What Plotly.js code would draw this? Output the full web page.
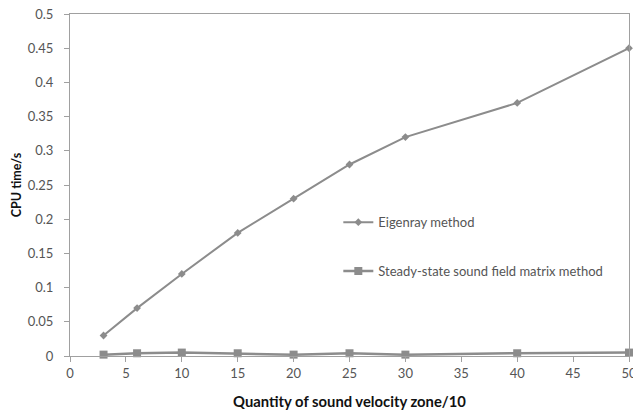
<!DOCTYPE html>
<html><head><meta charset="utf-8">
<script src="https://cdn.plot.ly/plotly-3.0.1.min.js"></script>
<style>body{margin:0;background:#fff}#c{width:633px;height:414px}</style>
</head><body><div id="c"></div>
<script>
const zones = [3, 6, 10, 15, 20, 25, 30, 40, 50];
const eigenray = [0.03, 0.07, 0.12, 0.18, 0.23, 0.28, 0.32, 0.37, 0.45];
const steady = [0.002, 0.004, 0.005, 0.004, 0.002, 0.004, 0.002, 0.004, 0.005];
const xTicks = [0,5,10,15,20,25,30,35,40,45,50];
const yTicks = [0,0.05,0.1,0.15,0.2,0.25,0.3,0.35,0.4,0.45,0.5];
const yTickText = ['0','0.05','0.1','0.15','0.2','0.25','0.3','0.35','0.4','0.45','0.5'];

const traces = [
  {x: zones, y: eigenray, name: 'Eigenray method', mode: 'lines+markers', legendgroup:'a',
   line:{color:'#8c8c8c', width:2}, marker:{symbol:'diamond', size:6, color:'#8c8c8c'}, cliponaxis:false},
  {x: zones, y: steady, name: 'Steady-state sound field matrix method', mode: 'lines+markers', legendgroup:'b',
   line:{color:'#8c8c8c', width:2.5}, marker:{symbol:'square', size:8, color:'#8c8c8c'}, cliponaxis:false}
];
const layout = {
  width:633, height:414,
  margin:{l:70, r:4, t:13.5, b:58.3},
  paper_bgcolor:'#fff', plot_bgcolor:'#fff',
  font:{family:'Lato, sans-serif', size:13, color:'#555'},
  showlegend:true,
  legend:{x:0.48, y:0.435, xanchor:'left', yanchor:'top', bgcolor:'rgba(0,0,0,0)',
    font:{size:13, color:'#555'}, traceorder:'grouped', tracegroupgap:29},
  xaxis:{range:[0,50], tickvals:xTicks, ticks:'outside', ticklen:5, tickcolor:'#a0a0a0',
    ticklabeloverflow:'allow',
    showline:true, linecolor:'#a0a0a0', linewidth:1, mirror:true, showgrid:false, zeroline:false,
    title:{text:'<b>Quantity of sound velocity zone/10</b>', font:{size:14.8, color:'#111'}, standoff:17}},
  yaxis:{range:[0,0.5], tickvals:yTicks, ticktext:yTickText, ticks:'outside', ticklen:5, tickcolor:'#a0a0a0',
    ticklabelstandoff:8,
    showline:true, linecolor:'#a0a0a0', linewidth:1, mirror:true, showgrid:false, zeroline:false,
    title:{text:'<b>CPU time/s</b>', font:{size:12.5, color:'#111'}, standoff:3}}
};
Plotly.newPlot('c', traces, layout, {displayModeBar:false, staticPlot:true});
</script></body></html>
